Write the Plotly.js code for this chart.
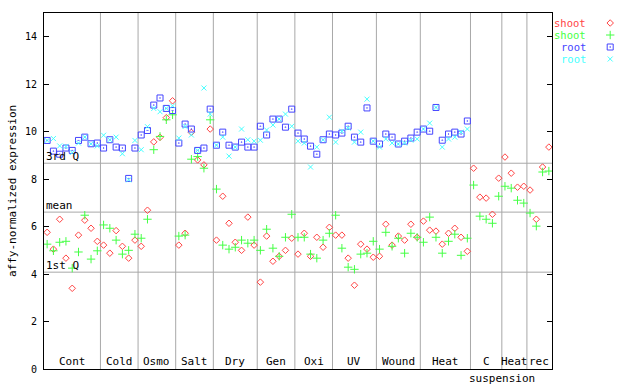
<!DOCTYPE html>
<html>
<head>
<meta charset="utf-8">
<script src="https://cdn.plot.ly/plotly-3.0.1.min.js"></script>
<style>html,body{margin:0;padding:0;background:#fff;}#chart{width:640px;height:384px;}</style>
</head>
<body>
<div id="chart"></div>
<script>
const categories = ["Cont","Cold","Osmo","Salt","Dry","Gen","Oxi","UV","Wound","Heat","C","Heat","rec"];
const categoryCounts = [9,6,6,6,7,6,6,7,7,8,5,4,4];
const subLabel = "suspension";

const shoot1 = [5.76,5.05,6.31,4.67,3.40,5.64,6.27,5.93,5.38,
  5.22,4.88,5.83,5.17,4.67,5.43,
  5.17,6.69,9.57,9.76,10.59,11.30,
  5.22,5.72,9.97,8.81,8.60,10.11,
  5.43,7.28,6.14,5.34,5.00,6.40,5.22,
  3.66,5.60,4.54,4.75,5.00,5.51,
  4.84,5.72,4.75,5.55,5.13,5.97,
  5.64,5.64,4.67,3.53,5.26,5.05,4.71,
  4.75,6.10,5.22,5.60,5.43,6.10,5.55,
  6.23,5.85,5.81,5.26,5.72,5.93,5.55,4.96,
  8.46,7.24,7.20,6.52,8.04,
  8.93,8.25,7.66,7.70,
  7.54,6.31,8.51,9.35];
const shoot2 = [5.26,4.98,5.34,5.38,4.25,4.93,6.48,4.63,4.98,
  6.07,5.93,5.43,4.84,5.00,5.68,
  5.51,6.31,9.24,9.80,10.50,10.71,
  5.60,5.64,8.84,8.95,8.46,10.50,
  7.58,5.22,5.05,5.13,5.43,5.30,5.43,
  5.00,5.89,5.09,4.75,5.55,6.52,
  5.55,5.55,4.84,4.67,5.43,5.72,
  6.48,5.09,4.29,4.20,4.84,4.88,5.38,
  5.05,5.76,5.17,5.51,4.88,5.72,5.55,
  5.34,6.40,5.55,4.88,5.38,5.68,4.79,5.51,
  7.75,6.44,6.31,6.14,7.28,
  7.70,7.62,7.11,6.99,
  6.57,6.02,8.30,8.34];
const root1 = [9.63,9.18,9.05,9.31,9.21,9.63,9.77,9.49,9.52,
  9.31,9.66,9.35,9.31,8.03,9.31,
  9.86,10.05,11.12,11.42,10.98,10.89,
  9.52,10.32,10.11,9.21,9.31,10.95,
  9.43,9.98,9.43,9.35,9.56,9.35,9.35,
  10.23,9.86,10.53,10.53,10.19,10.95,
  9.94,9.69,9.39,9.05,9.66,9.90,
  9.86,9.94,10.23,9.77,9.56,11.00,9.60,
  9.48,9.90,9.77,9.48,9.60,9.73,9.98,
  10.11,10.02,11.02,9.64,9.90,9.98,9.90,10.45,
  null,null,null,null,null,
  null,null,null,null,
  null,null,null,null];
const root2 = [9.63,9.71,9.40,9.38,9.12,9.52,9.77,9.49,9.40,
  9.85,9.66,9.77,9.07,7.97,9.63,
  9.24,10.21,10.98,10.84,10.98,11.09,
  9.73,10.22,9.86,9.21,11.84,10.74,
  9.43,9.77,8.97,9.35,10.11,9.66,9.60,
  9.64,10.07,10.28,10.53,10.74,10.23,
  9.60,9.52,8.51,9.35,9.66,10.61,
  9.56,10.02,10.15,9.56,9.98,11.37,9.60,
  9.35,9.69,9.52,9.48,9.52,9.64,9.69,
  10.11,10.36,11.02,9.35,9.69,9.77,9.98,10.11,
  null,null,null,null,null,
  null,null,null,null,
  null,null,null,null];

const quartile1 = 4.08, meanValue = 6.61, quartile3 = 8.67;
const yTicks = [0,2,4,6,8,10,12,14];
const seriesNames = ["shoot","shoot","root","root"];
const seriesColors = ["#ff4444","#44ff44","#4444ff","#44ffff"];

const total = categoryCounts.reduce((a,b)=>a+b,0);
const xs = Array.from({length: total}, (_, i) => i);

const mainW = 508, plotW = 596;
const mono = "DejaVu Sans Mono, monospace";

const markerDefs = [
  {symbol: "diamond-open", size: 5},
  {symbol: "cross-thin-open", size: 6},
  {symbol: "square-open-dot", size: 6},
  {symbol: "x-thin-open", size: 5}
];
const seriesData = [shoot1, shoot2, root1, root2];

const traces = seriesData.map((ys, k) => ({
  type: "scatter", mode: "markers", x: xs, y: ys,
  xaxis: "x", yaxis: "y", showlegend: false, hoverinfo: "skip",
  marker: {symbol: markerDefs[k].symbol, size: markerDefs[k].size, color: seriesColors[k], line: {width: 1, color: seriesColors[k]}}
}));
// legend marks (rows at pixel y 23, 35, 47, 59)
const legendRows = [23, 35, 47, 59];
// yaxis2 domain [0.82,1] -> pixels 13..77.1 ; map value v=3-k to row
seriesData.forEach((ys, k) => {
  traces.push({
    type: "scatter", mode: "markers", x: [0.5], y: [3 - k],
    xaxis: "x2", yaxis: "y2", showlegend: false, hoverinfo: "skip",
    marker: {symbol: markerDefs[k].symbol, size: markerDefs[k].size, color: seriesColors[k], line: {width: 1, color: seriesColors[k]}}
  });
});
// y2 range: pixel(v) = 77.08 - (v - r0)/(r1 - r0) * 64.08 ; v=3 ->23, v=0 ->59
// 3/(r1-r0)*64.08 = 36 -> r1-r0 = 5.34 ; (0-r0)/5.34*64.08 = 18.08 -> r0 = -1.507
const y2r0 = -1.507, y2r1 = y2r0 + 5.34;

const shapes = [];
const annotations = [];
let start = 0;
categoryCounts.forEach((c, idx) => {
  const end = start + c;
  if (idx < categoryCounts.length - 1) {
    shapes.push({type: "line", xref: "x", yref: "paper", x0: end - 0.5, x1: end - 0.5, y0: 0, y1: 1, line: {color: "#a8a8a8", width: 1}, layer: "below"});
  }
  annotations.push({xref: "x", yref: "paper", x: (start + end - 1) / 2, y: 0, yanchor: "bottom", xanchor: "center", yshift: -1,
    text: categories[idx], showarrow: false, font: {family: mono, size: 11, color: "#000"}});
  start = end;
});
annotations.push({xref: "x", yref: "paper", x: 72.5, y: 0, yanchor: "top", xanchor: "center", yshift: -1,
  text: subLabel, showarrow: false, font: {family: mono, size: 11, color: "#000"}});

[[quartile3, "3rd Q"], [meanValue, "mean"], [quartile1, "1st Q"]].forEach(([v, t]) => {
  shapes.push({type: "line", xref: "x", yref: "y", x0: -0.5, x1: total - 0.5, y0: v, y1: v, line: {color: "#a8a8a8", width: 1}, layer: "below"});
  annotations.push({xref: "paper", yref: "y", x: 0, y: v, xanchor: "left", yanchor: "bottom", xshift: 0, yshift: -2,
    text: t, showarrow: false, font: {family: mono, size: 11, color: "#000"}});
});

annotations.push({xref: "paper", yref: "paper", x: (12 - 44) / plotW, y: 0.5, xanchor: "center", yanchor: "middle",
  textangle: -90, text: "affy-normalized expression", showarrow: false, font: {family: mono, size: 11, color: "#000"}});

seriesNames.forEach((n, k) => {
  annotations.push({xref: "paper", yref: "paper", x: (587 - 44) / plotW, y: (369 - legendRows[k]) / 356, xanchor: "right", yanchor: "middle",
    borderpad: 0, text: n, showarrow: false, font: {family: mono, size: 10.5, color: seriesColors[k]}});
});

const layout = {
  width: 640, height: 384,
  margin: {l: 44, r: 0, t: 13, b: 15, pad: 0},
  paper_bgcolor: "#fff", plot_bgcolor: "rgba(0,0,0,0)",
  showlegend: false,
  xaxis: {domain: [0, mainW / plotW], range: [-0.5, total - 0.5], showticklabels: false, ticks: "", showgrid: false, zeroline: false,
    showline: true, mirror: true, linecolor: "#000", linewidth: 1, fixedrange: true},
  yaxis: {range: [0, 15], tickvals: yTicks, ticks: "inside", ticklen: 5, tickcolor: "#000", showgrid: false, zeroline: false,
    showline: true, mirror: "ticks", linecolor: "#000", linewidth: 1, ticklabelstandoff: 4,
    tickfont: {family: mono, size: 10, color: "#000"}, fixedrange: true},
  xaxis2: {domain: [0.93, 0.97], range: [0, 1], visible: false, anchor: "y2"},
  yaxis2: {domain: [0.82, 1], range: [y2r0, y2r1], visible: false, anchor: "x2"},
  shapes: shapes,
  annotations: annotations
};

Plotly.newPlot("chart", traces, layout, {staticPlot: true, displayModeBar: false});
</script>
</body>
</html>
